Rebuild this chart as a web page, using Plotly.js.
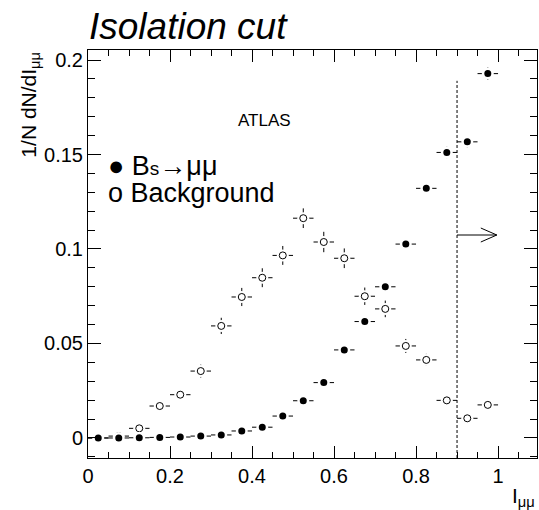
<!DOCTYPE html>
<html>
<head>
<meta charset="utf-8">
<script src="https://cdn.plot.ly/plotly-3.0.1.min.js"></script>
<style>html,body{margin:0;padding:0;background:#fff;}#chart{width:539px;height:510px;}</style>
</head>
<body>
<div id="chart"></div>
<script>
// ---- data ----
const binCenters = [0.025,0.075,0.125,0.175,0.225,0.275,0.325,0.375,0.425,0.475,0.525,0.575,0.625,0.675,0.725,0.775,0.825,0.875,0.925,0.975];
const binHalfWidth = 0.025;
const signalValues = [0.0000,0.0000,0.0001,0.0003,0.0005,0.0010,0.0016,0.0037,0.0057,0.0116,0.0197,0.0293,0.0466,0.0616,0.0800,0.1026,0.1321,0.1511,0.1567,0.1928];
const signalErrors = [0.0001,0.0001,0.0001,0.0002,0.0002,0.0003,0.0004,0.0006,0.0007,0.0010,0.0012,0.0015,0.0018,0.0020,0.0022,0.0025,0.0028,0.0030,0.0030,0.0033];
const backgroundValues = [0.0000,0.0010,0.0051,0.0169,0.0229,0.0354,0.0593,0.0746,0.0848,0.0966,0.1163,0.1037,0.0951,0.0750,0.0683,0.0487,0.0413,0.0199,0.0104,0.0175];
const backgroundErrors = [0.0002,0.0005,0.0010,0.0020,0.0025,0.0034,0.0043,0.0048,0.0050,0.0050,0.0052,0.0054,0.0052,0.0046,0.0044,0.0037,0.0032,0.0022,0.0016,0.0020];
const xTickVals = [0,0.2,0.4,0.6,0.8,1];
const yTickVals = [0,0.05,0.1,0.15,0.2];
const cutValue = 0.9;
const cutLineTop = 0.189;
const arrowY = 0.1074;
const arrowEnd = 0.997;

const xRange = [0, 1.095];
const yRange = [-0.0106, 0.2053];
const FONT = "Liberation Sans, Arial, sans-serif";

const xErr = {type:'data', array: binCenters.map(()=>binHalfWidth), symmetric:true, color:'black', thickness:1, width:0};

const traces = [
  { // background: error bars + white gap disc
    x: binCenters, y: backgroundValues, mode:'markers', type:'scatter',
    marker:{symbol:'circle', size:12, color:'white', line:{width:0}},
    error_x: xErr,
    error_y: {type:'data', array: backgroundErrors, color:'black', thickness:1, width:0},
    hoverinfo:'skip', showlegend:false
  },
  { // background open circles
    x: binCenters, y: backgroundValues, mode:'markers', type:'scatter',
    marker:{symbol:'circle', size:7, color:'white', line:{width:1, color:'black'}},
    showlegend:false
  },
  { // signal filled circles with error bars (white ring gives gap)
    x: binCenters, y: signalValues, mode:'markers', type:'scatter',
    marker:{symbol:'circle', size:9.5, color:'black', line:{width:2.5, color:'white'}},
    error_x: xErr,
    error_y: {type:'data', array: signalErrors, color:'black', thickness:1, width:0},
    showlegend:false
  }
];

const arrowDx = 0.039, arrowDy = 0.0037;
const arrowPath = 'M' + cutValue + ',' + arrowY + ' L' + arrowEnd + ',' + arrowY +
  ' M' + (arrowEnd - arrowDx) + ',' + (arrowY + arrowDy) + ' L' + arrowEnd + ',' + arrowY +
  ' L' + (arrowEnd - arrowDx) + ',' + (arrowY - arrowDy);

const axisCommon = {
  showgrid:false, zeroline:false, showline:true, linecolor:'black', linewidth:1,
  mirror:'allticks', ticks:'inside', tickcolor:'black', tickwidth:1,
  tickfont:{family:FONT, size:20, color:'black'}
};

const layout = {
  width:539, height:510,
  margin:{l:88, r:2, t:50, b:52},
  paper_bgcolor:'white', plot_bgcolor:'white',
  showlegend:false,
  xaxis: Object.assign({}, axisCommon, {
    range:xRange, tickvals:xTickVals, ticklen:12,
    minor:{dtick:0.05, ticklen:6, ticks:'inside', tickcolor:'black', showgrid:false}
  }),
  yaxis: Object.assign({}, axisCommon, {
    range:yRange, tickvals:yTickVals, ticklen:13,
    minor:{dtick:0.01, ticklen:7, ticks:'inside', tickcolor:'black', showgrid:false}
  }),
  shapes:[
    {type:'line', xref:'x', yref:'y', x0:cutValue, x1:cutValue, y0:yRange[0], y1:cutLineTop,
     line:{color:'black', width:1, dash:'3px,2px'}},
    {type:'path', xref:'x', yref:'y', path:arrowPath, line:{color:'black', width:1}}
  ],
  annotations:[
    {text:'<i>Isolation cut</i>', xref:'paper', yref:'paper', x:-0.002, y:1.003, xanchor:'left', yanchor:'bottom',
     showarrow:false, font:{family:FONT, size:37, color:'black'}},
    {text:'1/N dN/dI<sub>μμ</sub>', xref:'paper', yref:'paper', x:-0.13, y:1.0, xanchor:'center', yanchor:'top',
     textangle:-90, showarrow:false, font:{family:FONT, size:21, color:'black'}},
    {text:'I<sub>μμ</sub>', xref:'paper', yref:'paper', x:1.0, y:-0.095, xanchor:'right', yanchor:'middle',
     showarrow:false, font:{family:FONT, size:21, color:'black'}},
    {text:'ATLAS', xref:'x', yref:'y', x:0.43, y:0.168, xanchor:'center', yanchor:'middle',
     showarrow:false, font:{family:FONT, size:17, color:'black'}},
    {text:'● B<span style="font-size:19px">s</span>→μμ', xref:'x', yref:'y', x:0.044, y:0.1440, xanchor:'left', yanchor:'middle',
     showarrow:false, font:{family:FONT, size:27, color:'black'}},
    {text:'o Background', xref:'x', yref:'y', x:0.044, y:0.1295, xanchor:'left', yanchor:'middle',
     showarrow:false, font:{family:FONT, size:27, color:'black'}}
  ]
};

Plotly.newPlot('chart', traces, layout, {displayModeBar:false, staticPlot:true});
</script>
</body>
</html>
